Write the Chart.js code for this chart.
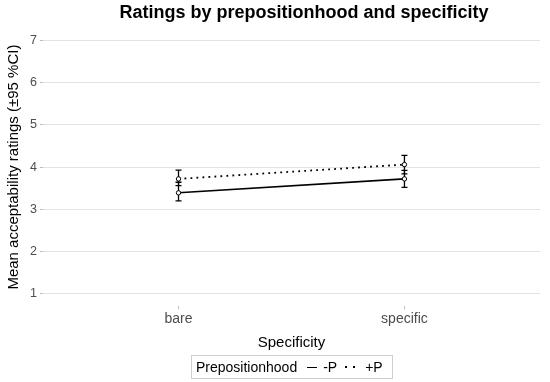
<!DOCTYPE html>
<html>
<head>
<meta charset="utf-8">
<script src="https://cdn.jsdelivr.net/npm/chart.js@4/dist/chart.umd.min.js"></script>
<style>
  html, body { margin: 0; padding: 0; background: #fff; }
  #wrap { position: relative; width: 550px; height: 382px; font-family: "Liberation Sans", Arial, sans-serif; }
  #c { position: absolute; left: 0; top: 0; }
  #title { position: absolute; top: 2px; left: 104px; width: 400px; text-align: center; font-weight: bold; font-size: 18px; color: #000; white-space: nowrap; }
  #legend { position: absolute; left: 191px; top: 355px; width: 202px; height: 24px; border: 1px solid #cfcfcf; box-sizing: border-box; display: flex; align-items: center; font-size: 14px; color: #000; padding-left: 4px; white-space: nowrap; }
  #legend .sw { display: inline-block; width: 10px; height: 0; margin: 0 6px 0 10px; }
  #legend .dots { display: inline-flex; width: 10px; justify-content: space-between; margin: 0 10px 0 8px; }
  #legend .dots i { display: block; width: 2px; height: 2px; background: #000; }
</style>
</head>
<body>
<div id="wrap">
  <canvas id="c" width="550" height="382"></canvas>
  <div id="title">Ratings by prepositionhood and specificity</div>
  <div id="legend">
    <span>Prepositionhood</span>
    <span class="sw" style="border-top:1.6px solid #000"></span><span>-P</span>
    <span class="dots"><i></i><i></i></span><span>+P</span>
  </div>
</div>
<script>
// Data
const categories = ["bare", "specific"];
const seriesNames = ["-P", "+P"];
const meanMinusP = [3.39, 3.72];
const lowMinusP  = [3.20, 3.52];
const highMinusP = [3.64, 3.92];
const meanPlusP  = [3.72, 4.06];
const lowPlusP   = [3.56, 3.84];
const highPlusP  = [3.93, 4.28];
const yTicks = [1, 2, 3, 4, 5, 6, 7];

function pts(means, lows, highs) {
  return means.map((m, i) => ({ x: i, y: m, lo: lows[i], hi: highs[i] }));
}

const errorBars = {
  id: 'errorBars',
  afterDatasetsDraw(chart) {
    const ctx = chart.ctx;
    const xs = chart.scales.x, ys = chart.scales.y;
    ctx.save();
    ctx.strokeStyle = '#000';
    ctx.lineWidth = 1.3;
    chart.data.datasets.forEach(ds => {
      ds.data.forEach(p => {
        const x = xs.getPixelForValue(p.x);
        const yl = ys.getPixelForValue(p.lo);
        const yh = ys.getPixelForValue(p.hi);
        ctx.beginPath();
        ctx.moveTo(x, yl); ctx.lineTo(x, yh);
        ctx.moveTo(x - 3, yl); ctx.lineTo(x + 3, yl);
        ctx.moveTo(x - 3, yh); ctx.lineTo(x + 3, yh);
        ctx.stroke();
      });
    });
    chart.data.datasets.forEach(ds => {
      ds.data.forEach(p => {
        const x = xs.getPixelForValue(p.x);
        const y = ys.getPixelForValue(p.y);
        ctx.beginPath();
        ctx.arc(x, y, 2.2, 0, Math.PI * 2);
        ctx.fillStyle = '#fff';
        ctx.fill();
        ctx.lineWidth = 1;
        ctx.stroke();
      });
    });
    ctx.restore();
  }
};

new Chart(document.getElementById('c'), {
  type: 'line',
  data: {
    datasets: [
      { label: seriesNames[0], data: pts(meanMinusP, lowMinusP, highMinusP), borderColor: '#000', borderWidth: 1.6, pointRadius: 0, fill: false },
      { label: seriesNames[1], data: pts(meanPlusP, lowPlusP, highPlusP), borderColor: '#000', borderWidth: 1.8, borderDash: [1.8, 4.2], pointRadius: 0, fill: false }
    ]
  },
  options: {
    responsive: false,
    animation: false,
    layout: { padding: { top: 28, right: 10, bottom: 30, left: 5 } },
    plugins: { legend: { display: false }, title: { display: false }, tooltip: { enabled: false } },
    scales: {
      x: {
        type: 'linear', min: -0.6, max: 1.6,
        afterBuildTicks: s => { s.ticks = categories.map((c, i) => ({ value: i })); },
        ticks: { callback: v => categories[v], color: '#4d4d4d', font: { family: 'Liberation Sans', size: 14 }, padding: 2 },
        grid: { drawOnChartArea: false, drawTicks: true, tickLength: 3, tickColor: '#bdbdbd' },
        border: { display: false },
        title: { display: true, text: 'Specificity', color: '#000', font: { family: 'Liberation Sans', size: 15 }, padding: { top: 4, bottom: 0 } }
      },
      y: {
        min: 0.7, max: 7.3,
        afterBuildTicks: s => { s.ticks = yTicks.map(v => ({ value: v })); },
        ticks: { color: '#4d4d4d', font: { family: 'Liberation Sans', size: 12.5 }, padding: 3 },
        grid: { color: '#e3e3e3', lineWidth: 1, drawTicks: true, tickLength: 3, tickColor: '#bdbdbd' },
        border: { display: false },
        title: { display: true, text: 'Mean acceptability ratings (±95 %CI)', color: '#000', font: { family: 'Liberation Sans', size: 15 }, padding: { top: 0, bottom: 4 } }
      }
    }
  },
  plugins: [errorBars]
});
</script>
</body>
</html>
